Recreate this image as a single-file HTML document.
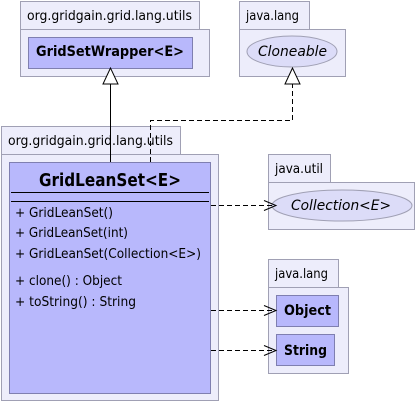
<!DOCTYPE html><html><head><style>body{margin:0;background:#fff}</style></head><body>
<svg width="416" height="403" xmlns="http://www.w3.org/2000/svg" font-family="'DejaVu Sans',sans-serif">
<g stroke="#a0a0b4" fill="#ededfb">
<rect x="20.5" y="1.5" width="179" height="28"/><rect x="20.5" y="29.5" width="189" height="47"/>
<rect x="239.5" y="1.5" width="70" height="28"/><rect x="239.5" y="29.5" width="106" height="47"/>
<rect x="1.5" y="126.5" width="179" height="28"/><rect x="1.5" y="154.5" width="217" height="246"/>
<rect x="268.5" y="154.5" width="62" height="28"/><rect x="268.5" y="182.5" width="146" height="47"/>
<rect x="268.5" y="259.5" width="70" height="28"/><rect x="268.5" y="287.5" width="80" height="86"/>
</g>
<g fill="#000" font-size="13" lengthAdjust="spacingAndGlyphs">
<text x="27" y="20" textLength="165" lengthAdjust="spacingAndGlyphs">org.gridgain.grid.lang.utils</text>
<text x="246" y="20" textLength="53" lengthAdjust="spacingAndGlyphs">java.lang</text>
<text x="8" y="145" textLength="165" lengthAdjust="spacingAndGlyphs">org.gridgain.grid.lang.utils</text>
<text x="275" y="173" textLength="48" lengthAdjust="spacingAndGlyphs">java.util</text>
<text x="275" y="278" textLength="53" lengthAdjust="spacingAndGlyphs">java.lang</text>
</g>
<g stroke="#7f7fb0" fill="#b8b8fc">
<rect x="28.5" y="37.5" width="164" height="31"/>
<rect x="9.5" y="162.5" width="201" height="231"/>
<rect x="276.5" y="295.5" width="62" height="31"/>
<rect x="276.5" y="334.5" width="58" height="31"/>
</g>
<g stroke="#a0a0b4" fill="#dcdcf8">
<ellipse cx="292" cy="51.5" rx="45" ry="15.5"/>
<ellipse cx="342" cy="205.5" rx="70" ry="15.5"/>
</g>
<g font-weight="bold" font-size="14" fill="#000">
<text x="36" y="56" textLength="148" lengthAdjust="spacingAndGlyphs">GridSetWrapper&lt;E&gt;</text>
<text x="284" y="315" textLength="47" lengthAdjust="spacingAndGlyphs">Object</text>
<text x="284" y="355" textLength="43" lengthAdjust="spacingAndGlyphs">String</text>
<text x="39" y="186" font-size="18" textLength="142" lengthAdjust="spacingAndGlyphs">GridLeanSet&lt;E&gt;</text>
</g>
<g font-style="italic" font-size="14" fill="#000">
<text x="258" y="56" textLength="69" lengthAdjust="spacingAndGlyphs">Cloneable</text>
<text x="291" y="210" textLength="100" lengthAdjust="spacingAndGlyphs">Collection&lt;E&gt;</text>
</g>
<g stroke="#000"><line x1="11" y1="192.5" x2="209" y2="192.5"/><line x1="11" y1="201.5" x2="209" y2="201.5"/></g>
<g font-size="13" fill="#000">
<text x="15" y="217" textLength="98" lengthAdjust="spacingAndGlyphs">+ GridLeanSet()</text>
<text x="15" y="237" textLength="113" lengthAdjust="spacingAndGlyphs">+ GridLeanSet(int)</text>
<text x="15" y="258" textLength="186" lengthAdjust="spacingAndGlyphs">+ GridLeanSet(Collection&lt;E&gt;)</text>
<text x="15" y="285" textLength="107" lengthAdjust="spacingAndGlyphs">+ clone() : Object</text>
<text x="15" y="306" textLength="121" lengthAdjust="spacingAndGlyphs">+ toString() : String</text>
</g>
<g stroke="#000" fill="none">
<line x1="110.5" y1="84" x2="110.5" y2="162"/>
<path d="M150.5 162V120.5H292.5V84" stroke-dasharray="5,3"/>
<path d="M211 205.5H276M211 310.5H276M211 350.5H276" stroke-dasharray="5,3"/>
<path d="M264 200.5L276 205.5L264 210.5M264 305.5L276 310.5L264 315.5M264 345.5L276 350.5L264 355.5"/>
</g>
<g stroke="#000" fill="#fff">
<path d="M110.5 68L103 84H118Z"/><path d="M292.5 68L285 84H300Z"/>
</g>
</svg></body></html>
